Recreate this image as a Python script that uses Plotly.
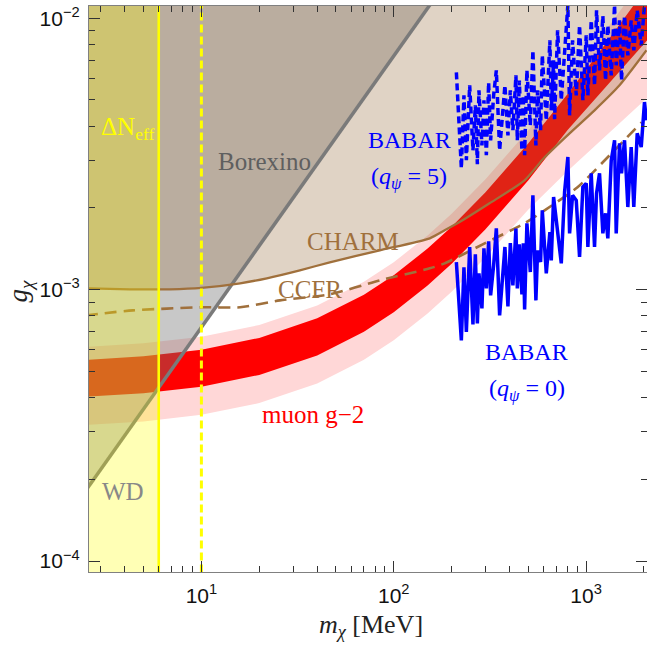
import plotly.graph_objects as go

# ---------------- data (m_X in MeV, g_X dimensionless) ----------------
# axis window
M_MIN, M_MAX = 10 ** 0.4156, 10 ** 3.3169
G_MIN, G_MAX = 10 ** -4.0405, 10 ** -1.9547
G_TOP = 0.02  # polygon closure above the frame

# Delta N_eff bound and the weaker (dashed) version
NEFF_MASS = 6.0
NEFF_DASHED_MASS = 10.0

# Borexino / white-dwarf boundary (straight in log-log)
borexino_m = [2.5, 10.0, 160.0]
borexino_g = [1.815e-4, 7.26e-4, 1.162e-2]

# CHARM
charm_m = [2.5, 4.25, 6.86, 10, 15.9, 21.9, 32.5, 46.5, 84.6, 154, 184, 228,
           315, 479, 609, 821, 1107, 1493, 2062]
charm_g = [1.011e-3, 1.003e-3, 1.003e-3, 1.015e-3, 1.055e-3, 1.101e-3, 1.178e-3,
           1.261e-3, 1.396e-3, 1.546e-3, 1.654e-3, 1.801e-3, 2.080e-3, 2.529e-3,
           3.074e-3, 3.768e-3, 4.580e-3, 5.662e-3, 7.621e-3]

# CCFR
ccfr_m = [2.5, 4.4, 10, 15.9, 25.6, 46.5, 84.6, 154, 184, 297, 479, 609, 903, 1325, 1943]
ccfr_g = [8.04e-4, 8.39e-4, 8.61e-4, 8.61e-4, 9.13e-4, 9.61e-4, 1.082e-3, 1.198e-3,
          1.250e-3, 1.481e-3, 1.756e-3, 1.960e-3, 2.383e-3, 3.126e-3, 4.137e-3]

# muon g-2 preferred region: 1 sigma (dark) and 2 sigma (light)
g2_m = [2.5, 5, 10, 20, 40, 70, 100, 150, 200, 300, 500, 800, 1200, 2100]
g2_2s_hi = [6.15e-4, 6.34e-4, 6.71e-4, 7.41e-4, 8.75e-4, 1.070e-3, 1.262e-3, 1.582e-3,
            1.903e-3, 2.550e-3, 3.859e-3, 5.857e-3, 8.568e-3, 1.473e-2]
g2_1s_hi = [5.51e-4, 5.68e-4, 6.01e-4, 6.64e-4, 7.84e-4, 9.58e-4, 1.130e-3, 1.417e-3,
            1.704e-3, 2.283e-3, 3.455e-3, 5.245e-3, 7.673e-3, 1.319e-2]
g2_1s_lo = [4.03e-4, 4.15e-4, 4.39e-4, 4.85e-4, 5.72e-4, 7.00e-4, 8.25e-4, 1.035e-3,
            1.245e-3, 1.668e-3, 2.524e-3, 3.868e-3, 5.373e-3, 8.37e-3]
g2_2s_lo = [3.17e-4, 3.27e-4, 3.46e-4, 3.82e-4, 4.51e-4, 5.52e-4, 6.51e-4, 8.16e-4,
            9.82e-4, 1.315e-3, 1.968e-3, 2.731e-3, 3.56e-3, 5.13e-3]

# BABAR, q_psi = 0 (solid)
babar0_m = [211.7, 224.7, 231.8, 238.6, 248.3, 258.2, 265.7, 272.2, 277.4, 287.5,
            294.5, 303.1, 311.5, 319.0, 330.7, 341.6, 355.3, 378.6, 392.5, 403.9,
            416.6, 431.9, 439.2, 449.8, 464.0, 471.9, 479.2, 492.6, 513.0, 529.2,
            548.6, 559.8, 580.2, 592.2, 621.2, 648.5, 659.5, 678.0, 743.4, 773.2,
            804.5, 821.0, 851.1, 889.4, 925.2, 962.6, 1002, 1022, 1064, 1107,
            1134, 1175, 1223, 1263, 1298, 1352, 1407, 1435, 1493, 1529,
            1585, 1649, 1717, 1771, 1845, 1936, 2013, 2060]
babar0_g = [1.264e-3, 6.50e-4, 1.208e-3, 6.98e-4, 1.436e-3, 7.45e-4, 1.349e-3, 7.51e-4,
            1.148e-3, 8.53e-4, 1.420e-3, 1.011e-3, 1.507e-3, 9.53e-4, 1.229e-3, 1.683e-3,
            8.04e-4, 1.436e-3, 8.68e-4, 1.485e-3, 1.037e-3, 1.678e-3, 1.011e-3, 1.469e-3,
            9.61e-4, 1.481e-3, 8.46e-4, 1.755e-3, 1.161e-3, 2.226e-3, 9.13e-4, 1.396e-3,
            1.264e-3, 1.960e-3, 1.148e-3, 1.630e-3, 1.282e-3, 2.194e-3, 1.250e-3, 2.290e-3,
            3.083e-3, 1.612e-3, 2.226e-3, 2.134e-3, 1.319e-3, 2.389e-3, 2.465e-3, 1.436e-3,
            2.684e-3, 1.436e-3, 2.265e-3, 2.684e-3, 1.612e-3, 1.911e-3, 1.545e-3, 2.997e-3,
            3.553e-3, 1.612e-3, 3.462e-3, 2.684e-3, 3.553e-3, 2.016e-3, 3.355e-3, 2.016e-3,
            3.768e-3, 3.355e-3, 4.914e-3, 4.207e-3]

# BABAR, q_psi = 5 (dashed)
babar5_m = [211.7, 224.7, 231.8, 238.6, 248.3, 258.2, 265.7, 272.2, 277.4, 287.5,
            294.5, 303.1, 311.5, 319.0, 330.7, 341.6, 355.3, 378.6, 392.5, 403.9,
            416.6, 431.9, 439.2, 449.8, 464.0, 471.9, 479.2, 492.6, 513.0, 529.2,
            548.6, 559.8, 580.2, 592.2, 621.2, 648.5, 659.5, 678.0, 686.2, 711.3,
            743.4, 773.2, 804.5, 821.0, 851.1, 889.4, 925.2, 962.6, 1002, 1022,
            1064, 1107, 1134, 1175, 1223, 1263, 1298, 1352, 1407, 1435,
            1493, 1529, 1585, 1649, 1717, 1771, 1845, 1936, 2013]
babar5_g = [6.32e-3, 2.80e-3, 5.20e-3, 3.00e-3, 5.66e-3, 3.26e-3, 4.78e-3, 2.90e-3,
            5.43e-3, 3.40e-3, 4.99e-3, 3.13e-3, 5.80e-3, 3.55e-3, 5.20e-3, 6.43e-3,
            3.26e-3, 5.66e-3, 3.70e-3, 5.43e-3, 3.87e-3, 6.16e-3, 3.55e-3, 5.90e-3,
            3.26e-3, 5.20e-3, 3.13e-3, 6.43e-3, 4.03e-3, 7.62e-3, 3.40e-3, 5.43e-3,
            3.87e-3, 7.30e-3, 4.20e-3, 8.30e-3, 4.58e-3, 7.00e-3, 4.25e-3, 9.03e-3,
            4.99e-3, 7.95e-3, 1.12e-2, 4.39e-3, 8.30e-3, 5.20e-3, 9.42e-3, 4.99e-3,
            8.66e-3, 5.20e-3, 9.83e-3, 5.66e-3, 1.07e-2, 6.43e-3, 1.02e-2, 5.90e-3,
            9.42e-3, 6.16e-3, 1.12e-2, 6.71e-3, 9.83e-3, 5.90e-3, 1.02e-2, 7.30e-3,
            9.83e-3, 7.62e-3, 1.07e-2, 7.95e-3, 1.12e-2]

# tick labels
x_major = [10, 100, 1000]
x_major_text = ["10<sup>1</sup>", "10<sup>2</sup>", "10<sup>3</sup>"]
y_major = [1e-4, 1e-3, 1e-2]
y_major_text = ["10<sup>\u22124</sup>", "10<sup>\u22123</sup>", "10<sup>\u22122</sup>"]
x_minor = [k * d for d in (1, 10, 100) for k in range(2, 10)] + [2000]
y_minor = [k * d for d in (1e-4, 1e-3) for k in range(2, 10)]

# ---------------- styling ----------------
BROWN = "#A0703C"
SERIF = "Liberation Serif"
SANS = "Liberation Sans"

fig = go.Figure()


def band(m, lo, hi, color):
    fig.add_trace(go.Scatter(
        x=list(m) + list(m)[::-1], y=list(hi) + list(lo)[::-1],
        mode="lines", line=dict(width=0), fill="toself", fillcolor=color,
        hoverinfo="skip"))


def region_above(m, g, color):
    fig.add_trace(go.Scatter(
        x=list(m) + [m[-1], m[0]], y=list(g) + [G_TOP, G_TOP],
        mode="lines", line=dict(width=0), fill="toself", fillcolor=color,
        hoverinfo="skip"))


# muon g-2 bands
band(g2_m, g2_2s_lo, g2_2s_hi, "rgb(255,215,215)")
band(g2_m, g2_1s_lo, g2_1s_hi, "rgb(255,0,0)")

# excluded regions
region_above(borexino_m, borexino_g, "rgba(112,112,112,0.385)")
region_above(charm_m, charm_g, "rgba(155,113,68,0.31)")

# boundaries
fig.add_trace(go.Scatter(x=borexino_m, y=borexino_g, mode="lines",
                         line=dict(color="#7a7a7a", width=3.5)))
fig.add_trace(go.Scatter(x=charm_m, y=charm_g, mode="lines",
                         line=dict(color=BROWN, width=2.3, shape="spline", smoothing=0.6)))
fig.add_trace(go.Scatter(x=ccfr_m, y=ccfr_g, mode="lines",
                         line=dict(color=BROWN, width=2.6, dash="12px,7px",
                                   shape="spline", smoothing=0.6)))

# BABAR
fig.add_trace(go.Scatter(x=babar0_m, y=babar0_g, mode="lines",
                         line=dict(color="#0000ff", width=3.5)))
fig.add_trace(go.Scatter(x=babar5_m, y=babar5_g, mode="lines",
                         line=dict(color="#0000ff", width=3.5, dash="7px,4px")))

# Delta N_eff
fig.add_trace(go.Scatter(
    x=[M_MIN * 0.9, NEFF_MASS, NEFF_MASS, M_MIN * 0.9],
    y=[G_MIN * 0.9, G_MIN * 0.9, G_TOP, G_TOP],
    mode="lines", line=dict(width=0), fill="toself",
    fillcolor="rgba(255,255,0,0.29)", hoverinfo="skip"))
fig.add_trace(go.Scatter(x=[NEFF_MASS, NEFF_MASS], y=[G_MIN * 0.9, G_TOP], mode="lines",
                         line=dict(color="#ffff00", width=2.6)))
fig.add_trace(go.Scatter(x=[NEFF_DASHED_MASS, NEFF_DASHED_MASS], y=[G_MIN * 0.9, G_TOP],
                         mode="lines", line=dict(color="#ffff00", width=3, dash="8px,4px")))

# ---------------- labels ----------------
def label(text, lx, ly, color, size=25):
    fig.add_annotation(x=lx, y=ly, xref="x", yref="y", text=text, showarrow=False,
                       font=dict(family=SERIF, size=size, color=color),
                       xanchor="center", yanchor="middle")


label("\u0394N<sub>eff</sub>", 0.618, -2.4055, "#ffff00")
label("Borexino", 1.330, -2.527, "#5f5f5f")
label("BABAR", 2.083, -2.450, "#0000ff", 24)
label("(<i>q</i><sub><i>\u03c8</i></sub> = 5)", 2.078, -2.590, "#0000ff", 24)
label("CHARM", 1.787, -2.822, BROWN)
label("CCFR", 1.564, -2.999, BROWN)
label("muon g\u22122", 1.579, -3.460, "#ff0000")
label("BABAR", 2.691, -3.231, "#0000ff", 24)
label("(<i>q</i><sub><i>\u03c8</i></sub> = 0)", 2.691, -3.371, "#0000ff", 24)
label("WD", 0.592, -3.744, "#888888")

# axis titles
fig.add_annotation(x=0.505, y=-0.095, xref="paper", yref="paper",
                   text="<i>m</i><sub><i>\u03c7</i></sub> [MeV]", showarrow=False,
                   font=dict(family=SERIF, size=26, color="#222"),
                   xanchor="center", yanchor="middle")
fig.add_annotation(x=-0.124, y=0.497, xref="paper", yref="paper",
                   text="<i>g</i><sub><i>\u03c7</i></sub>", showarrow=False, textangle=-90,
                   font=dict(family=SERIF, size=27, color="#222"),
                   xanchor="center", yanchor="middle")

axis_common = dict(
    showgrid=False, zeroline=False, showline=True, linecolor="#808080", linewidth=1.2,
    mirror="allticks", ticks="inside", ticklen=11, tickwidth=1, tickcolor="#333",
    tickfont=dict(family=SANS, size=21, color="#111"),
)
fig.update_xaxes(type="log", range=[0.4156, 3.3169], tickmode="array",
                 tickvals=x_major, ticktext=x_major_text, ticklabelstandoff=5,
                 minor=dict(tickmode="array", tickvals=x_minor, ticks="inside",
                            ticklen=6, tickcolor="#333", showgrid=False),
                 **axis_common)
fig.update_yaxes(type="log", range=[-4.0405, -1.9547], tickmode="array",
                 tickvals=y_major, ticktext=y_major_text, ticklabelstandoff=4,
                 minor=dict(tickmode="array", tickvals=y_minor, ticks="inside",
                            ticklen=6, tickcolor="#333", showgrid=False),
                 **axis_common)

fig.update_layout(
    width=647, height=646, showlegend=False,
    margin=dict(l=89, r=0, t=6, b=74),
    paper_bgcolor="white", plot_bgcolor="white",
)

fig.write_html("out.html")
